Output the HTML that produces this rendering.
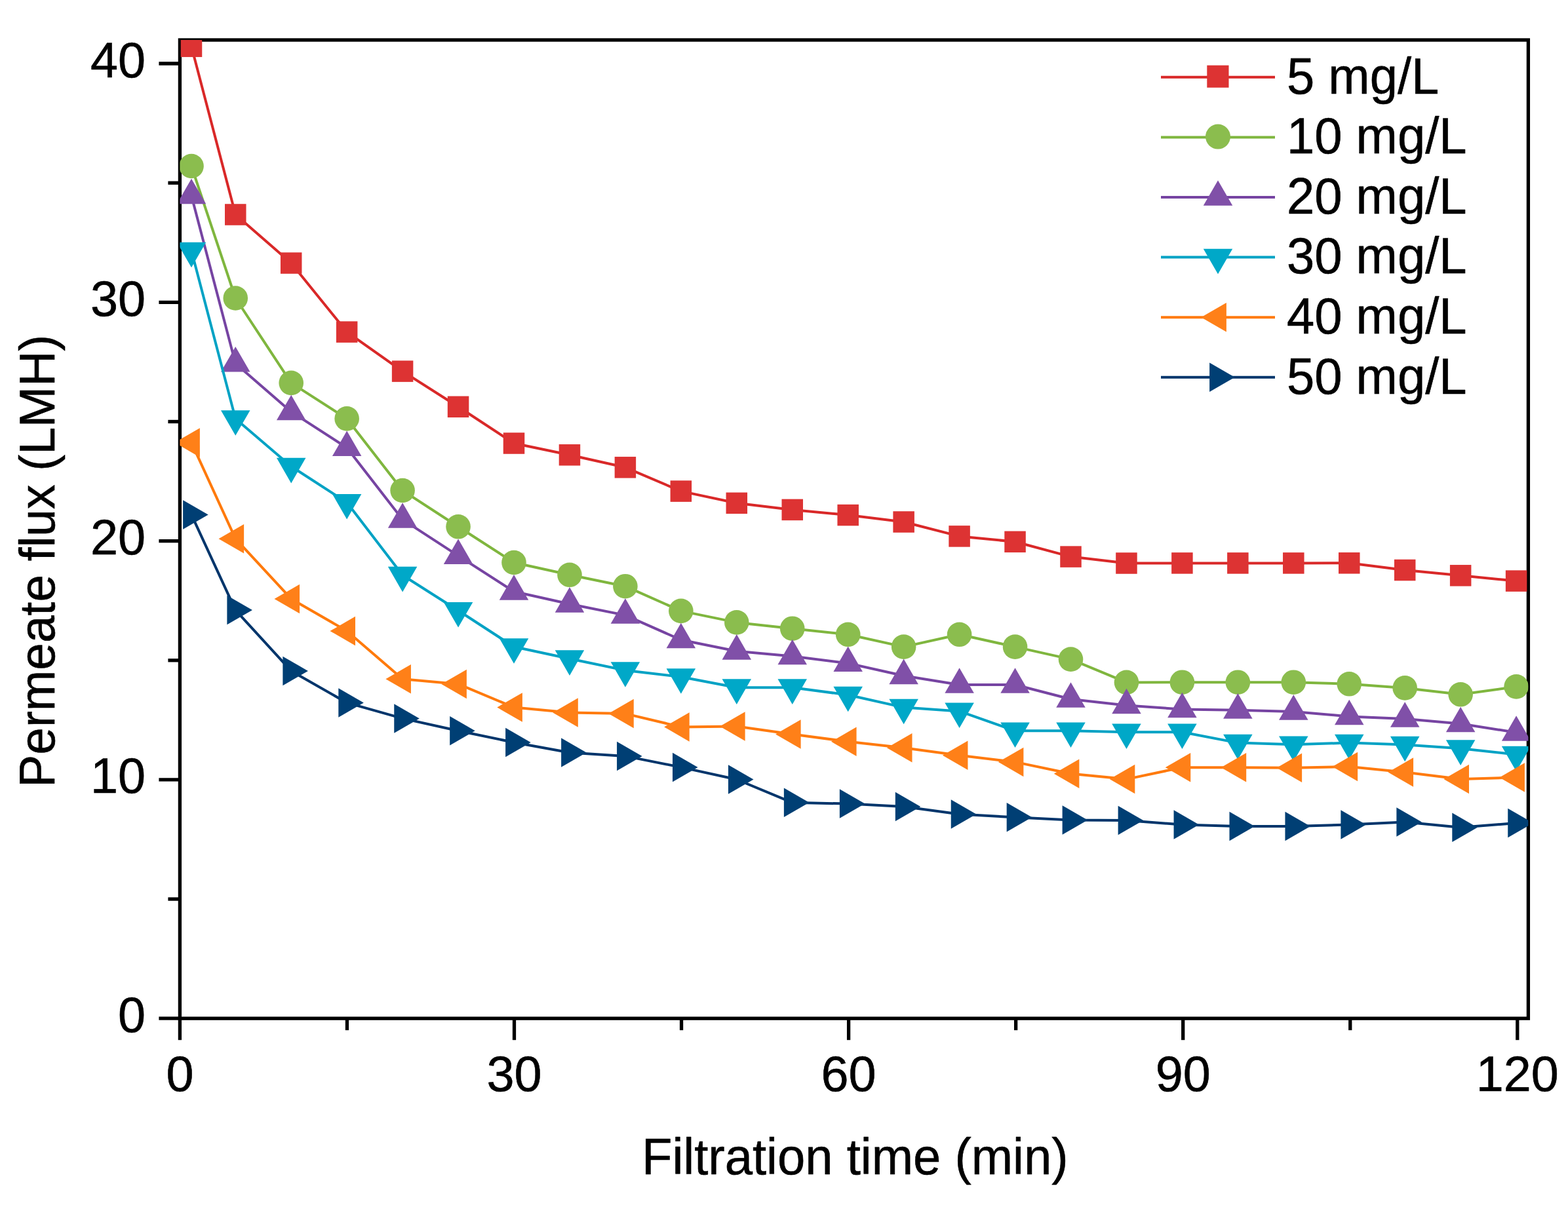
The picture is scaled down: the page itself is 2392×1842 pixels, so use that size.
<!DOCTYPE html>
<html><head><meta charset="utf-8"><title>Permeate flux vs filtration time</title>
<style>
html,body{margin:0;padding:0;background:#fff;}
svg{display:block;}
text{font-family:"Liberation Sans",Arial,Helvetica,sans-serif;fill:#000;stroke:#000;stroke-width:0.6px;stroke-linejoin:round;}
</style></head><body>
<svg width="2392" height="1842" viewBox="0 0 2392 1842">
<rect x="0" y="0" width="2392" height="1842" fill="#fff"/>
<defs><clipPath id="plotclip"><rect x="274.4" y="61" width="2057" height="1493.2"/></clipPath></defs>

<g stroke="#000" stroke-width="5.3" fill="none" stroke-linecap="butt">
<rect x="274.4" y="61" width="2057" height="1493.2" stroke-linejoin="miter"/>
<line x1="274.4" y1="1554.2" x2="274.4" y2="1587.2"/>
<line x1="529.45" y1="1554.2" x2="529.45" y2="1572.2"/>
<line x1="784.5" y1="1554.2" x2="784.5" y2="1587.2"/>
<line x1="1039.55" y1="1554.2" x2="1039.55" y2="1572.2"/>
<line x1="1294.6" y1="1554.2" x2="1294.6" y2="1587.2"/>
<line x1="1549.65" y1="1554.2" x2="1549.65" y2="1572.2"/>
<line x1="1804.7" y1="1554.2" x2="1804.7" y2="1587.2"/>
<line x1="2059.75" y1="1554.2" x2="2059.75" y2="1572.2"/>
<line x1="2314.8" y1="1554.2" x2="2314.8" y2="1587.2"/>
<line x1="242.4" y1="1554.2" x2="274.4" y2="1554.2"/>
<line x1="256.4" y1="1372.05" x2="274.4" y2="1372.05"/>
<line x1="242.4" y1="1189.9" x2="274.4" y2="1189.9"/>
<line x1="256.4" y1="1007.75" x2="274.4" y2="1007.75"/>
<line x1="242.4" y1="825.6" x2="274.4" y2="825.6"/>
<line x1="256.4" y1="643.45" x2="274.4" y2="643.45"/>
<line x1="242.4" y1="461.3" x2="274.4" y2="461.3"/>
<line x1="256.4" y1="279.15" x2="274.4" y2="279.15"/>
<line x1="242.4" y1="97" x2="274.4" y2="97"/>
</g>
<g font-size="75.6">
<text x="274.4" y="1664.5" text-anchor="middle">0</text>
<text x="784.5" y="1664.5" text-anchor="middle">30</text>
<text x="1294.6" y="1664.5" text-anchor="middle">60</text>
<text x="1804.7" y="1664.5" text-anchor="middle">90</text>
<text x="2314.8" y="1664.5" text-anchor="middle">120</text>
<text x="222" y="1574.7" text-anchor="end">0</text>
<text x="222" y="1210.4" text-anchor="end">10</text>
<text x="222" y="846.1" text-anchor="end">20</text>
<text x="222" y="481.8" text-anchor="end">30</text>
<text x="222" y="117.5" text-anchor="end">40</text>
<text x="1304.3" y="1791" text-anchor="middle" transform="matrix(1.006 0 0 1.03 -7.83 -52.95)">Filtration time (min)</text>
<text transform="translate(83.2 856.2) rotate(-90) scale(0.991 1)" x="0" y="0" text-anchor="middle">Permeate flux (LMH)</text>
</g>
<g clip-path="url(#plotclip)">
<polyline fill="none" stroke="#D92828" stroke-width="4.0" stroke-linejoin="round" points="292,70.8 359.25,327.5 444.2,401.5 529.15,506.6 614.1,566.6 699.05,620.8 784,676.5 868.95,694.3 953.9,713.3 1038.85,749.6 1123.8,767.8 1208.75,777.9 1293.7,786.1 1378.65,796.5 1463.6,818.4 1548.55,826.8 1633.5,849.6 1718.45,859.5 1803.4,859.4 1888.35,859.4 1973.3,859.4 2058.25,859.3 2143.2,870 2228.15,878.3 2313.1,886.6"/>
<rect x="275.75" y="54.55" width="32.5" height="32.5" fill="#DD3333"/>
<rect x="343" y="311.25" width="32.5" height="32.5" fill="#DD3333"/>
<rect x="427.95" y="385.25" width="32.5" height="32.5" fill="#DD3333"/>
<rect x="512.9" y="490.35" width="32.5" height="32.5" fill="#DD3333"/>
<rect x="597.85" y="550.35" width="32.5" height="32.5" fill="#DD3333"/>
<rect x="682.8" y="604.55" width="32.5" height="32.5" fill="#DD3333"/>
<rect x="767.75" y="660.25" width="32.5" height="32.5" fill="#DD3333"/>
<rect x="852.7" y="678.05" width="32.5" height="32.5" fill="#DD3333"/>
<rect x="937.65" y="697.05" width="32.5" height="32.5" fill="#DD3333"/>
<rect x="1022.6" y="733.35" width="32.5" height="32.5" fill="#DD3333"/>
<rect x="1107.55" y="751.55" width="32.5" height="32.5" fill="#DD3333"/>
<rect x="1192.5" y="761.65" width="32.5" height="32.5" fill="#DD3333"/>
<rect x="1277.45" y="769.85" width="32.5" height="32.5" fill="#DD3333"/>
<rect x="1362.4" y="780.25" width="32.5" height="32.5" fill="#DD3333"/>
<rect x="1447.35" y="802.15" width="32.5" height="32.5" fill="#DD3333"/>
<rect x="1532.3" y="810.55" width="32.5" height="32.5" fill="#DD3333"/>
<rect x="1617.25" y="833.35" width="32.5" height="32.5" fill="#DD3333"/>
<rect x="1702.2" y="843.25" width="32.5" height="32.5" fill="#DD3333"/>
<rect x="1787.15" y="843.15" width="32.5" height="32.5" fill="#DD3333"/>
<rect x="1872.1" y="843.15" width="32.5" height="32.5" fill="#DD3333"/>
<rect x="1957.05" y="843.15" width="32.5" height="32.5" fill="#DD3333"/>
<rect x="2042" y="843.05" width="32.5" height="32.5" fill="#DD3333"/>
<rect x="2126.95" y="853.75" width="32.5" height="32.5" fill="#DD3333"/>
<rect x="2211.9" y="862.05" width="32.5" height="32.5" fill="#DD3333"/>
<rect x="2296.85" y="870.35" width="32.5" height="32.5" fill="#DD3333"/>
<polyline fill="none" stroke="#7FB63E" stroke-width="4.0" stroke-linejoin="round" points="292,253.5 359.25,455 444.2,584.4 529.15,638.9 614.1,748.5 699.05,803.8 784,858.5 868.95,877.3 953.9,894.7 1038.85,932.4 1123.8,949.9 1208.75,959.2 1293.7,968.3 1378.65,987.1 1463.6,968.3 1548.55,987.1 1633.5,1006.1 1718.45,1041.4 1803.4,1041.2 1888.35,1041.2 1973.3,1041.2 2058.25,1043.8 2143.2,1049.9 2228.15,1059.8 2313.1,1047.9"/>
<circle cx="292" cy="253.5" r="18.8" fill="#8BBD4E"/>
<circle cx="359.25" cy="455" r="18.8" fill="#8BBD4E"/>
<circle cx="444.2" cy="584.4" r="18.8" fill="#8BBD4E"/>
<circle cx="529.15" cy="638.9" r="18.8" fill="#8BBD4E"/>
<circle cx="614.1" cy="748.5" r="18.8" fill="#8BBD4E"/>
<circle cx="699.05" cy="803.8" r="18.8" fill="#8BBD4E"/>
<circle cx="784" cy="858.5" r="18.8" fill="#8BBD4E"/>
<circle cx="868.95" cy="877.3" r="18.8" fill="#8BBD4E"/>
<circle cx="953.9" cy="894.7" r="18.8" fill="#8BBD4E"/>
<circle cx="1038.85" cy="932.4" r="18.8" fill="#8BBD4E"/>
<circle cx="1123.8" cy="949.9" r="18.8" fill="#8BBD4E"/>
<circle cx="1208.75" cy="959.2" r="18.8" fill="#8BBD4E"/>
<circle cx="1293.7" cy="968.3" r="18.8" fill="#8BBD4E"/>
<circle cx="1378.65" cy="987.1" r="18.8" fill="#8BBD4E"/>
<circle cx="1463.6" cy="968.3" r="18.8" fill="#8BBD4E"/>
<circle cx="1548.55" cy="987.1" r="18.8" fill="#8BBD4E"/>
<circle cx="1633.5" cy="1006.1" r="18.8" fill="#8BBD4E"/>
<circle cx="1718.45" cy="1041.4" r="18.8" fill="#8BBD4E"/>
<circle cx="1803.4" cy="1041.2" r="18.8" fill="#8BBD4E"/>
<circle cx="1888.35" cy="1041.2" r="18.8" fill="#8BBD4E"/>
<circle cx="1973.3" cy="1041.2" r="18.8" fill="#8BBD4E"/>
<circle cx="2058.25" cy="1043.8" r="18.8" fill="#8BBD4E"/>
<circle cx="2143.2" cy="1049.9" r="18.8" fill="#8BBD4E"/>
<circle cx="2228.15" cy="1059.8" r="18.8" fill="#8BBD4E"/>
<circle cx="2313.1" cy="1047.9" r="18.8" fill="#8BBD4E"/>
<polyline fill="none" stroke="#7644A2" stroke-width="4.0" stroke-linejoin="round" points="292,298.4 359.25,554.7 444.2,628.4 529.15,683.2 614.1,792.9 699.05,848.1 784,902.8 868.95,921.8 953.9,938.9 1038.85,976.5 1123.8,993.8 1208.75,1001.4 1293.7,1012.2 1378.65,1031.3 1463.6,1045 1548.55,1045 1633.5,1067 1718.45,1076.5 1803.4,1082.4 1888.35,1083.8 1973.3,1086 2058.25,1093.4 2143.2,1097 2228.15,1104.4 2313.1,1117.9"/>
<path d="M292 272.71 L314.25 311.25 L269.75 311.25 Z" fill="#8050A8"/>
<path d="M359.25 529.01 L381.5 567.55 L337 567.55 Z" fill="#8050A8"/>
<path d="M444.2 602.71 L466.45 641.25 L421.95 641.25 Z" fill="#8050A8"/>
<path d="M529.15 657.51 L551.4 696.05 L506.9 696.05 Z" fill="#8050A8"/>
<path d="M614.1 767.21 L636.35 805.75 L591.85 805.75 Z" fill="#8050A8"/>
<path d="M699.05 822.41 L721.3 860.95 L676.8 860.95 Z" fill="#8050A8"/>
<path d="M784 877.11 L806.25 915.65 L761.75 915.65 Z" fill="#8050A8"/>
<path d="M868.95 896.11 L891.2 934.65 L846.7 934.65 Z" fill="#8050A8"/>
<path d="M953.9 913.21 L976.15 951.75 L931.65 951.75 Z" fill="#8050A8"/>
<path d="M1038.85 950.81 L1061.1 989.35 L1016.6 989.35 Z" fill="#8050A8"/>
<path d="M1123.8 968.11 L1146.05 1006.65 L1101.55 1006.65 Z" fill="#8050A8"/>
<path d="M1208.75 975.71 L1231 1014.25 L1186.5 1014.25 Z" fill="#8050A8"/>
<path d="M1293.7 986.51 L1315.95 1025.05 L1271.45 1025.05 Z" fill="#8050A8"/>
<path d="M1378.65 1005.61 L1400.9 1044.15 L1356.4 1044.15 Z" fill="#8050A8"/>
<path d="M1463.6 1019.31 L1485.85 1057.85 L1441.35 1057.85 Z" fill="#8050A8"/>
<path d="M1548.55 1019.31 L1570.8 1057.85 L1526.3 1057.85 Z" fill="#8050A8"/>
<path d="M1633.5 1041.31 L1655.75 1079.85 L1611.25 1079.85 Z" fill="#8050A8"/>
<path d="M1718.45 1050.81 L1740.7 1089.35 L1696.2 1089.35 Z" fill="#8050A8"/>
<path d="M1803.4 1056.71 L1825.65 1095.25 L1781.15 1095.25 Z" fill="#8050A8"/>
<path d="M1888.35 1058.11 L1910.6 1096.65 L1866.1 1096.65 Z" fill="#8050A8"/>
<path d="M1973.3 1060.31 L1995.55 1098.85 L1951.05 1098.85 Z" fill="#8050A8"/>
<path d="M2058.25 1067.71 L2080.5 1106.25 L2036 1106.25 Z" fill="#8050A8"/>
<path d="M2143.2 1071.31 L2165.45 1109.85 L2120.95 1109.85 Z" fill="#8050A8"/>
<path d="M2228.15 1078.71 L2250.4 1117.25 L2205.9 1117.25 Z" fill="#8050A8"/>
<path d="M2313.1 1092.21 L2335.35 1130.75 L2290.85 1130.75 Z" fill="#8050A8"/>
<polyline fill="none" stroke="#00A2C4" stroke-width="4.0" stroke-linejoin="round" points="292,382.5 359.25,639.1 444.2,711.7 529.15,766.8 614.1,877.7 699.05,931.8 784,987 868.95,1005.2 953.9,1023 1038.85,1033 1123.8,1049.2 1208.75,1049.2 1293.7,1060.5 1378.65,1079.6 1463.6,1085.4 1548.55,1115.3 1633.5,1115.3 1718.45,1117.3 1803.4,1117.3 1888.35,1133.6 1973.3,1136.3 2058.25,1133.6 2143.2,1136.5 2228.15,1142.2 2313.1,1151.5"/>
<path d="M292 408.19 L314.25 369.65 L269.75 369.65 Z" fill="#00A8C8"/>
<path d="M359.25 664.79 L381.5 626.25 L337 626.25 Z" fill="#00A8C8"/>
<path d="M444.2 737.39 L466.45 698.85 L421.95 698.85 Z" fill="#00A8C8"/>
<path d="M529.15 792.49 L551.4 753.95 L506.9 753.95 Z" fill="#00A8C8"/>
<path d="M614.1 903.39 L636.35 864.85 L591.85 864.85 Z" fill="#00A8C8"/>
<path d="M699.05 957.49 L721.3 918.95 L676.8 918.95 Z" fill="#00A8C8"/>
<path d="M784 1012.69 L806.25 974.15 L761.75 974.15 Z" fill="#00A8C8"/>
<path d="M868.95 1030.89 L891.2 992.35 L846.7 992.35 Z" fill="#00A8C8"/>
<path d="M953.9 1048.69 L976.15 1010.15 L931.65 1010.15 Z" fill="#00A8C8"/>
<path d="M1038.85 1058.69 L1061.1 1020.15 L1016.6 1020.15 Z" fill="#00A8C8"/>
<path d="M1123.8 1074.89 L1146.05 1036.35 L1101.55 1036.35 Z" fill="#00A8C8"/>
<path d="M1208.75 1074.89 L1231 1036.35 L1186.5 1036.35 Z" fill="#00A8C8"/>
<path d="M1293.7 1086.19 L1315.95 1047.65 L1271.45 1047.65 Z" fill="#00A8C8"/>
<path d="M1378.65 1105.29 L1400.9 1066.75 L1356.4 1066.75 Z" fill="#00A8C8"/>
<path d="M1463.6 1111.09 L1485.85 1072.55 L1441.35 1072.55 Z" fill="#00A8C8"/>
<path d="M1548.55 1140.99 L1570.8 1102.45 L1526.3 1102.45 Z" fill="#00A8C8"/>
<path d="M1633.5 1140.99 L1655.75 1102.45 L1611.25 1102.45 Z" fill="#00A8C8"/>
<path d="M1718.45 1142.99 L1740.7 1104.45 L1696.2 1104.45 Z" fill="#00A8C8"/>
<path d="M1803.4 1142.99 L1825.65 1104.45 L1781.15 1104.45 Z" fill="#00A8C8"/>
<path d="M1888.35 1159.29 L1910.6 1120.75 L1866.1 1120.75 Z" fill="#00A8C8"/>
<path d="M1973.3 1161.99 L1995.55 1123.45 L1951.05 1123.45 Z" fill="#00A8C8"/>
<path d="M2058.25 1159.29 L2080.5 1120.75 L2036 1120.75 Z" fill="#00A8C8"/>
<path d="M2143.2 1162.19 L2165.45 1123.65 L2120.95 1123.65 Z" fill="#00A8C8"/>
<path d="M2228.15 1167.89 L2250.4 1129.35 L2205.9 1129.35 Z" fill="#00A8C8"/>
<path d="M2313.1 1177.19 L2335.35 1138.65 L2290.85 1138.65 Z" fill="#00A8C8"/>
<polyline fill="none" stroke="#FF7A0C" stroke-width="4.0" stroke-linejoin="round" points="292,675.4 359.25,822.2 444.2,913.9 529.15,963 614.1,1036.2 699.05,1043.9 784,1079.5 868.95,1087.6 953.9,1089.1 1038.85,1109.4 1123.8,1108.5 1208.75,1120.4 1293.7,1131.8 1378.65,1141.2 1463.6,1152.8 1548.55,1162.9 1633.5,1180.7 1718.45,1189.1 1803.4,1171.2 1888.35,1171.2 1973.3,1171.8 2058.25,1170 2143.2,1178.4 2228.15,1189 2313.1,1186.4"/>
<path d="M266.31 675.4 L304.85 653.15 L304.85 697.65 Z" fill="#FF8018"/>
<path d="M333.56 822.2 L372.1 799.95 L372.1 844.45 Z" fill="#FF8018"/>
<path d="M418.51 913.9 L457.05 891.65 L457.05 936.15 Z" fill="#FF8018"/>
<path d="M503.46 963 L542 940.75 L542 985.25 Z" fill="#FF8018"/>
<path d="M588.41 1036.2 L626.95 1013.95 L626.95 1058.45 Z" fill="#FF8018"/>
<path d="M673.36 1043.9 L711.9 1021.65 L711.9 1066.15 Z" fill="#FF8018"/>
<path d="M758.31 1079.5 L796.85 1057.25 L796.85 1101.75 Z" fill="#FF8018"/>
<path d="M843.26 1087.6 L881.8 1065.35 L881.8 1109.85 Z" fill="#FF8018"/>
<path d="M928.21 1089.1 L966.75 1066.85 L966.75 1111.35 Z" fill="#FF8018"/>
<path d="M1013.16 1109.4 L1051.7 1087.15 L1051.7 1131.65 Z" fill="#FF8018"/>
<path d="M1098.11 1108.5 L1136.65 1086.25 L1136.65 1130.75 Z" fill="#FF8018"/>
<path d="M1183.06 1120.4 L1221.6 1098.15 L1221.6 1142.65 Z" fill="#FF8018"/>
<path d="M1268.01 1131.8 L1306.55 1109.55 L1306.55 1154.05 Z" fill="#FF8018"/>
<path d="M1352.96 1141.2 L1391.5 1118.95 L1391.5 1163.45 Z" fill="#FF8018"/>
<path d="M1437.91 1152.8 L1476.45 1130.55 L1476.45 1175.05 Z" fill="#FF8018"/>
<path d="M1522.86 1162.9 L1561.4 1140.65 L1561.4 1185.15 Z" fill="#FF8018"/>
<path d="M1607.81 1180.7 L1646.35 1158.45 L1646.35 1202.95 Z" fill="#FF8018"/>
<path d="M1692.76 1189.1 L1731.3 1166.85 L1731.3 1211.35 Z" fill="#FF8018"/>
<path d="M1777.71 1171.2 L1816.25 1148.95 L1816.25 1193.45 Z" fill="#FF8018"/>
<path d="M1862.66 1171.2 L1901.2 1148.95 L1901.2 1193.45 Z" fill="#FF8018"/>
<path d="M1947.61 1171.8 L1986.15 1149.55 L1986.15 1194.05 Z" fill="#FF8018"/>
<path d="M2032.56 1170 L2071.1 1147.75 L2071.1 1192.25 Z" fill="#FF8018"/>
<path d="M2117.51 1178.4 L2156.05 1156.15 L2156.05 1200.65 Z" fill="#FF8018"/>
<path d="M2202.46 1189 L2241 1166.75 L2241 1211.25 Z" fill="#FF8018"/>
<path d="M2287.41 1186.4 L2325.95 1164.15 L2325.95 1208.65 Z" fill="#FF8018"/>
<polyline fill="none" stroke="#00356B" stroke-width="4.0" stroke-linejoin="round" points="292,785.4 359.25,931.1 444.2,1023.9 529.15,1072.4 614.1,1096.4 699.05,1115.2 784,1133 868.95,1148.5 953.9,1153.9 1038.85,1170.9 1123.8,1189.5 1208.75,1224.8 1293.7,1226.6 1378.65,1231 1463.6,1242.6 1548.55,1247.3 1633.5,1251.5 1718.45,1251.9 1803.4,1258.6 1888.35,1261 1973.3,1261 2058.25,1258.6 2143.2,1254.5 2228.15,1262.8 2313.1,1256"/>
<path d="M317.69 785.4 L279.15 763.15 L279.15 807.65 Z" fill="#003F74"/>
<path d="M384.94 931.1 L346.4 908.85 L346.4 953.35 Z" fill="#003F74"/>
<path d="M469.89 1023.9 L431.35 1001.65 L431.35 1046.15 Z" fill="#003F74"/>
<path d="M554.84 1072.4 L516.3 1050.15 L516.3 1094.65 Z" fill="#003F74"/>
<path d="M639.79 1096.4 L601.25 1074.15 L601.25 1118.65 Z" fill="#003F74"/>
<path d="M724.74 1115.2 L686.2 1092.95 L686.2 1137.45 Z" fill="#003F74"/>
<path d="M809.69 1133 L771.15 1110.75 L771.15 1155.25 Z" fill="#003F74"/>
<path d="M894.64 1148.5 L856.1 1126.25 L856.1 1170.75 Z" fill="#003F74"/>
<path d="M979.59 1153.9 L941.05 1131.65 L941.05 1176.15 Z" fill="#003F74"/>
<path d="M1064.54 1170.9 L1026 1148.65 L1026 1193.15 Z" fill="#003F74"/>
<path d="M1149.49 1189.5 L1110.95 1167.25 L1110.95 1211.75 Z" fill="#003F74"/>
<path d="M1234.44 1224.8 L1195.9 1202.55 L1195.9 1247.05 Z" fill="#003F74"/>
<path d="M1319.39 1226.6 L1280.85 1204.35 L1280.85 1248.85 Z" fill="#003F74"/>
<path d="M1404.34 1231 L1365.8 1208.75 L1365.8 1253.25 Z" fill="#003F74"/>
<path d="M1489.29 1242.6 L1450.75 1220.35 L1450.75 1264.85 Z" fill="#003F74"/>
<path d="M1574.24 1247.3 L1535.7 1225.05 L1535.7 1269.55 Z" fill="#003F74"/>
<path d="M1659.19 1251.5 L1620.65 1229.25 L1620.65 1273.75 Z" fill="#003F74"/>
<path d="M1744.14 1251.9 L1705.6 1229.65 L1705.6 1274.15 Z" fill="#003F74"/>
<path d="M1829.09 1258.6 L1790.55 1236.35 L1790.55 1280.85 Z" fill="#003F74"/>
<path d="M1914.04 1261 L1875.5 1238.75 L1875.5 1283.25 Z" fill="#003F74"/>
<path d="M1998.99 1261 L1960.45 1238.75 L1960.45 1283.25 Z" fill="#003F74"/>
<path d="M2083.94 1258.6 L2045.4 1236.35 L2045.4 1280.85 Z" fill="#003F74"/>
<path d="M2168.89 1254.5 L2130.35 1232.25 L2130.35 1276.75 Z" fill="#003F74"/>
<path d="M2253.84 1262.8 L2215.3 1240.55 L2215.3 1285.05 Z" fill="#003F74"/>
<path d="M2338.79 1256 L2300.25 1233.75 L2300.25 1278.25 Z" fill="#003F74"/>
</g>
<g font-size="75.6">
<line x1="1771" y1="117.8" x2="1945" y2="117.8" stroke="#D92828" stroke-width="4.0"/>
<rect x="1841.3" y="99.7" width="33.2" height="34" fill="#DD3333"/>
<text x="1963" y="142" font-size="76" transform="matrix(1 0 0 1.025 0 -2.89)">5 mg/L</text>
<line x1="1771" y1="209.4" x2="1945" y2="209.4" stroke="#7FB63E" stroke-width="4.0"/>
<circle cx="1858" cy="208.6" r="19" fill="#8BBD4E"/>
<text x="1963" y="233.6" font-size="76" transform="matrix(1 0 0 1.025 0 -5.18)">10 mg/L</text>
<line x1="1771" y1="301" x2="1945" y2="301" stroke="#7644A2" stroke-width="4.0"/>
<path d="M1858 275.31 L1880.25 313.85 L1835.75 313.85 Z" fill="#8050A8"/>
<text x="1963" y="325.2" font-size="76" transform="matrix(1 0 0 1.025 0 -7.47)">20 mg/L</text>
<line x1="1771" y1="392.6" x2="1945" y2="392.6" stroke="#00A2C4" stroke-width="4.0"/>
<path d="M1858 418.29 L1880.25 379.75 L1835.75 379.75 Z" fill="#00A8C8"/>
<text x="1963" y="416.8" font-size="76" transform="matrix(1 0 0 1.025 0 -9.76)">30 mg/L</text>
<line x1="1771" y1="484.2" x2="1945" y2="484.2" stroke="#FF7A0C" stroke-width="4.0"/>
<path d="M1832.31 484.2 L1870.85 461.95 L1870.85 506.45 Z" fill="#FF8018"/>
<text x="1963" y="508.4" font-size="76" transform="matrix(1 0 0 1.025 0 -12.05)">40 mg/L</text>
<line x1="1771" y1="575.8" x2="1945" y2="575.8" stroke="#00356B" stroke-width="4.0"/>
<path d="M1883.69 575.8 L1845.15 553.55 L1845.15 598.05 Z" fill="#003F74"/>
<text x="1963" y="600" font-size="76" transform="matrix(1 0 0 1.025 0 -14.34)">50 mg/L</text>
</g>
</svg>
</body></html>
